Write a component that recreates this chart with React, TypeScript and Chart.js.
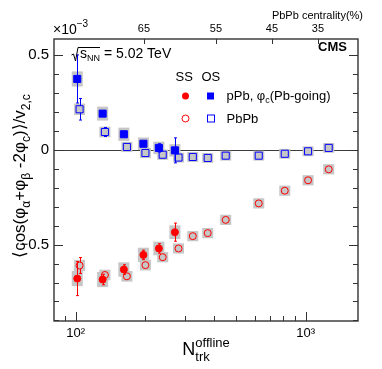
import React, { useEffect, useRef } from 'react';
import { Chart, registerables } from 'chart.js';

Chart.register(...registerables);

const FONT = '"Liberation Sans", Arial, Helvetica, sans-serif';

// ---- data (values in units of 1e-3) ----
const pPbNtrk = [101.6, 131, 162, 197, 230, 270];
const pPbOS = [0.375, 0.192, 0.083, 0.033, 0.011, -0.002];
const pPbOSStat = [0.127, 0.021, 0.018, 0.018, 0.022, 0.066];
const pPbOSSys = [0.04, 0.037, 0.035, 0.033, 0.033, 0.033];
const pPbSS = [-0.679, -0.684, -0.631, -0.554, -0.52, -0.434];
const pPbSSStat = [0.09, 0.028, 0.025, 0.025, 0.025, 0.048];
const pPbSSSys = [0.04, 0.04, 0.038, 0.038, 0.036, 0.036];

const PbPbNtrk = [104, 134, 167, 201, 239, 280, 323, 375, 449, 625, 811, 1024, 1259];
const PbPbOS = [0.215, 0.095, 0.016, -0.016, -0.025, -0.04, -0.037, -0.042, -0.03, -0.03, -0.02, -0.007, 0.011];
const PbPbOSStat = [0.057, 0.024, 0.014, 0.01, 0.008, 0.006, 0.005, 0.005, 0.004, 0.004, 0.004, 0.004, 0.004];
const PbPbOSSys = [0.03, 0.028, 0.027, 0.027, 0.027, 0.026, 0.026, 0.026, 0.026, 0.026, 0.026, 0.026, 0.026];
const PbPbSS = [-0.61, -0.66, -0.667, -0.608, -0.566, -0.52, -0.455, -0.439, -0.369, -0.282, -0.215, -0.16, -0.102];
const PbPbSSStat = [0.042, 0.015, 0.012, 0.01, 0.008, 0.007, 0.006, 0.006, 0.005, 0.005, 0.005, 0.005, 0.005];
const PbPbSSSys = [0.03, 0.028, 0.028, 0.028, 0.027, 0.027, 0.027, 0.027, 0.027, 0.027, 0.027, 0.027, 0.027];

// ---- axes ----
const xMin = 80.5;
const xMax = 1688;
const yMin = -0.903;
const yMax = 0.586;
const xMajorTicks = [100, 1000];
const xTickLabels = ['10\u00B2', '10\u00B3'];
const xMinorTicks = [90, 200, 300, 400, 500, 600, 700, 800, 900];
const yMajorTicks = [-0.5, 0, 0.5];
const yTickLabels = ['\u22120.5', '0', '0.5'];
const yMinorTicks = [-0.9, -0.8, -0.7, -0.6, -0.4, -0.3, -0.2, -0.1, 0.1, 0.2, 0.3, 0.4];
const centralityNtrk = [198, 407, 713, 1130];
const centralityLabels = ['65', '55', '45', '35'];

const RED = '#ff0000';
const BLUE = '#0000ff';
const BOX = '#c6c6c6';

const pts = (xs: number[], ys: number[]) => xs.map((x, i) => ({ x, y: ys[i] }));

type Seg = { t: string; s: number; dy?: number; bold?: boolean; sub?: Seg };

function segWidth(ctx: CanvasRenderingContext2D, g: Seg): number {
  ctx.font = `${g.bold ? 'bold ' : ''}${g.s}px ${FONT}`;
  let w = ctx.measureText(g.t).width;
  if (g.sub) {
    ctx.font = `${g.sub.s}px ${FONT}`;
    w = Math.max(w, ctx.measureText(g.sub.t).width);
  }
  return w;
}

function drawRich(
  ctx: CanvasRenderingContext2D,
  segs: Seg[],
  x: number,
  y: number,
  align: 'left' | 'center' | 'right',
  angle = 0
) {
  ctx.save();
  ctx.translate(x, y);
  ctx.rotate(angle);
  ctx.textBaseline = 'alphabetic';
  ctx.textAlign = 'left';
  const total = segs.reduce((a, g) => a + segWidth(ctx, g), 0);
  let cx = align === 'left' ? 0 : align === 'center' ? -total / 2 : -total;
  for (const g of segs) {
    const w = segWidth(ctx, g);
    ctx.font = `${g.bold ? 'bold ' : ''}${g.s}px ${FONT}`;
    ctx.fillText(g.t, cx, g.dy || 0);
    if (g.sub) {
      ctx.font = `${g.sub.s}px ${FONT}`;
      ctx.fillText(g.sub.t, cx, g.sub.dy || 0);
    }
    cx += w;
  }
  ctx.restore();
}

const decor = {
  id: 'decor',
  beforeDatasetsDraw(chart: any) {
    const { ctx, chartArea: a, scales } = chart;
    const xs = scales.x;
    const ys = scales.y;
    ctx.save();
    ctx.beginPath();
    ctx.rect(a.left, a.top, a.right - a.left, a.bottom - a.top);
    ctx.clip();
    // zero line
    ctx.strokeStyle = '#3c3c3c';
    ctx.lineWidth = 1;
    const y0 = Math.round(ys.getPixelForValue(0)) + 0.5;
    ctx.beginPath();
    ctx.moveTo(a.left, y0);
    ctx.lineTo(a.right, y0);
    ctx.stroke();
    // systematic boxes
    ctx.fillStyle = BOX;
    chart.data.datasets.forEach((ds: any) => {
      ds.data.forEach((p: any, i: number) => {
        const px = xs.getPixelForValue(p.x);
        const top = ys.getPixelForValue(p.y + ds.sys[i]);
        const bot = ys.getPixelForValue(p.y - ds.sys[i]);
        ctx.fillRect(px - 5.5, top, 11, bot - top);
      });
    });
    // statistical error bars
    chart.data.datasets.forEach((ds: any) => {
      ctx.strokeStyle = ds.borderColor;
      ctx.lineWidth = 1;
      ds.data.forEach((p: any, i: number) => {
        const px = Math.round(xs.getPixelForValue(p.x)) + 0.5;
        const py = ys.getPixelForValue(p.y);
        const e = Math.abs(ys.getPixelForValue(p.y + ds.stat[i]) - py);
        const h = 3.5;
        if (e <= h + 0.5) return;
        ctx.beginPath();
        ctx.moveTo(px, py - e);
        ctx.lineTo(px, py - h);
        ctx.moveTo(px, py + h);
        ctx.lineTo(px, py + e);
        ctx.moveTo(px - 1.5, py - e);
        ctx.lineTo(px + 1.5, py - e);
        ctx.moveTo(px - 1.5, py + e);
        ctx.lineTo(px + 1.5, py + e);
        ctx.stroke();
      });
    });
    ctx.restore();
  },
  afterDraw(chart: any) {
    const { ctx, chartArea: a, scales } = chart;
    const xs = scales.x;
    const ys = scales.y;
    const xt = scales.xTop;
    ctx.save();
    // ticks
    ctx.strokeStyle = '#333';
    ctx.lineWidth = 1;
    const tickY = (v: number, len: number) => {
      const y = Math.round(ys.getPixelForValue(v)) + 0.5;
      ctx.beginPath();
      ctx.moveTo(a.left, y);
      ctx.lineTo(a.left + len, y);
      ctx.moveTo(a.right, y);
      ctx.lineTo(a.right - len, y);
      ctx.stroke();
    };
    yMajorTicks.forEach((v) => tickY(v, 9));
    yMinorTicks.forEach((v) => tickY(v, 5));
    const tickX = (v: number, len: number) => {
      const x = Math.round(xs.getPixelForValue(v)) + 0.5;
      ctx.beginPath();
      ctx.moveTo(x, a.bottom);
      ctx.lineTo(x, a.bottom - len);
      ctx.stroke();
    };
    xMajorTicks.forEach((v) => tickX(v, 9));
    xMinorTicks.forEach((v) => tickX(v, 5));
    centralityNtrk.forEach((v) => {
      const x = Math.round(xt.getPixelForValue(v)) + 0.5;
      ctx.beginPath();
      ctx.moveTo(x, a.top);
      ctx.lineTo(x, a.top + 5);
      ctx.stroke();
    });
    // frame
    ctx.strokeStyle = '#333';
    ctx.lineWidth = 1.4;
    ctx.strokeRect(a.left, a.top, a.right - a.left, a.bottom - a.top);

    ctx.fillStyle = '#000';
    // exponent
    drawRich(ctx, [{ t: '\u00D710', s: 14 }, { t: '\u22123', s: 10, dy: -7 }], a.left - 1, 34, 'left');
    // top axis title
    drawRich(ctx, [{ t: 'PbPb centrality(%)', s: 11 }], 363, 19, 'right');
    // CMS
    drawRich(ctx, [{ t: 'CMS', s: 13, bold: true }], 347, 51, 'right');
    // sqrt(sNN)
    ctx.strokeStyle = '#000';
    ctx.lineWidth = 1;
    ctx.beginPath();
    ctx.moveTo(71.5, 55);
    ctx.lineTo(73.5, 54);
    ctx.lineTo(75.5, 61);
    ctx.lineTo(78, 47.5);
    ctx.lineTo(100, 47.5);
    ctx.stroke();
    drawRich(
      ctx,
      [
        { t: 's', s: 14 },
        { t: 'NN', s: 9, dy: 3 },
        { t: ' = 5.02 TeV', s: 14 },
      ],
      80,
      58,
      'left'
    );
    // legend
    drawRich(ctx, [{ t: 'SS', s: 13 }], 175.5, 81, 'left');
    drawRich(ctx, [{ t: 'OS', s: 13 }], 201.5, 81, 'left');
    ctx.fillStyle = RED;
    ctx.beginPath();
    ctx.arc(185.5, 96, 3.5, 0, Math.PI * 2);
    ctx.fill();
    ctx.fillStyle = BLUE;
    ctx.fillRect(207, 92.5, 7, 7);
    ctx.strokeStyle = RED;
    ctx.beginPath();
    ctx.arc(185.5, 118.5, 3.5, 0, Math.PI * 2);
    ctx.stroke();
    ctx.strokeStyle = BLUE;
    ctx.strokeRect(207.5, 115, 7, 7);
    ctx.fillStyle = '#000';
    drawRich(
      ctx,
      [
        { t: 'pPb, \u03C6', s: 13 },
        { t: 'c', s: 9, dy: 3 },
        { t: '(Pb-going)', s: 13 },
      ],
      226.5,
      100,
      'left'
    );
    drawRich(ctx, [{ t: 'PbPb', s: 13 }], 226.5, 122.5, 'left');
    // x title
    drawRich(
      ctx,
      [
        { t: 'N', s: 18 },
        { t: 'offline', s: 13, dy: -8, sub: { t: 'trk', s: 13, dy: 6 } },
      ],
      206,
      355,
      'center'
    );
    // y title
    drawRich(
      ctx,
      [
        { t: '\u27E8cos(\u03C6', s: 17 },
        { t: '\u03B1', s: 12, dy: 5 },
        { t: '+\u03C6', s: 17 },
        { t: '\u03B2', s: 12, dy: 5 },
        { t: ' -2\u03C6', s: 17 },
        { t: 'c', s: 12, dy: 5 },
        { t: ')\u27E9/v', s: 17 },
        { t: '2,c', s: 12, dy: 5 },
      ],
      25,
      176,
      'center',
      -Math.PI / 2
    );
    ctx.restore();
  },
};

export default function App() {
  const ref = useRef<HTMLCanvasElement>(null);
  useEffect(() => {
    document.body.style.margin = '0';
    const chart = new Chart(ref.current as HTMLCanvasElement, {
      type: 'scatter',
      data: {
        datasets: [
          {
            label: 'pPb SS',
            data: pts(pPbNtrk, pPbSS),
            stat: pPbSSStat,
            sys: pPbSSSys,
            pointStyle: 'circle',
            pointRadius: 3.5,
            pointBorderWidth: 1,
            backgroundColor: RED,
            borderColor: RED,
          } as any,
          {
            label: 'pPb OS',
            data: pts(pPbNtrk, pPbOS),
            stat: pPbOSStat,
            sys: pPbOSSys,
            pointStyle: 'rect',
            pointRadius: 5,
            pointBorderWidth: 1,
            backgroundColor: BLUE,
            borderColor: BLUE,
          } as any,
          {
            label: 'PbPb SS',
            data: pts(PbPbNtrk, PbPbSS),
            stat: PbPbSSStat,
            sys: PbPbSSSys,
            pointStyle: 'circle',
            pointRadius: 3.5,
            pointBorderWidth: 1,
            backgroundColor: 'rgba(0,0,0,0)',
            borderColor: RED,
          } as any,
          {
            label: 'PbPb OS',
            data: pts(PbPbNtrk, PbPbOS),
            stat: PbPbOSStat,
            sys: PbPbOSSys,
            pointStyle: 'rect',
            pointRadius: 5,
            pointBorderWidth: 1,
            backgroundColor: 'rgba(0,0,0,0)',
            borderColor: BLUE,
          } as any,
        ],
      },
      options: {
        responsive: false,
        animation: false,
        events: [],
        layout: { padding: { left: 0, top: 0, right: 24, bottom: 0 } },
        plugins: { legend: { display: false }, tooltip: { enabled: false } },
        scales: {
          x: {
            type: 'logarithmic',
            position: 'bottom',
            min: xMin,
            max: xMax,
            bounds: 'data',
            grid: { display: false, drawTicks: false },
            border: { display: false },
            afterBuildTicks: (axis: any) => {
              axis.ticks = xMajorTicks.map((v) => ({ value: v }));
            },
            afterFit: (scale: any) => {
              scale.height = 48;
            },
            ticks: {
              autoSkip: false,
              maxRotation: 0,
              padding: 5,
              color: '#000',
              font: { family: FONT, size: 13 },
              callback: (_v: any, i: number) => xTickLabels[i],
            },
          },
          xTop: {
            type: 'logarithmic',
            position: 'top',
            display: true,
            min: xMin,
            max: xMax,
            bounds: 'data',
            grid: { display: false, drawTicks: false },
            border: { display: false },
            afterBuildTicks: (axis: any) => {
              axis.ticks = centralityNtrk.map((v) => ({ value: v }));
            },
            afterFit: (scale: any) => {
              scale.height = 39;
            },
            ticks: {
              autoSkip: false,
              maxRotation: 0,
              padding: 3,
              color: '#000',
              font: { family: FONT, size: 11 },
              callback: (_v: any, i: number) => centralityLabels[i],
            },
          },
          y: {
            type: 'linear',
            position: 'left',
            min: yMin,
            max: yMax,
            grid: { display: false, drawTicks: false },
            border: { display: false },
            afterBuildTicks: (axis: any) => {
              axis.ticks = yMajorTicks.map((v) => ({ value: v }));
            },
            afterFit: (scale: any) => {
              scale.width = 54;
            },
            ticks: {
              padding: 5,
              color: '#000',
              font: { family: FONT, size: 15 },
              callback: (_v: any, i: number) => yTickLabels[i],
            },
          },
        },
      } as any,
      plugins: [decor],
    });
    return () => chart.destroy();
  }, []);
  return (
    <canvas
      ref={ref}
      width={382}
      height={369}
      style={{ display: 'block', width: 382, height: 369 }}
    />
  );
}
